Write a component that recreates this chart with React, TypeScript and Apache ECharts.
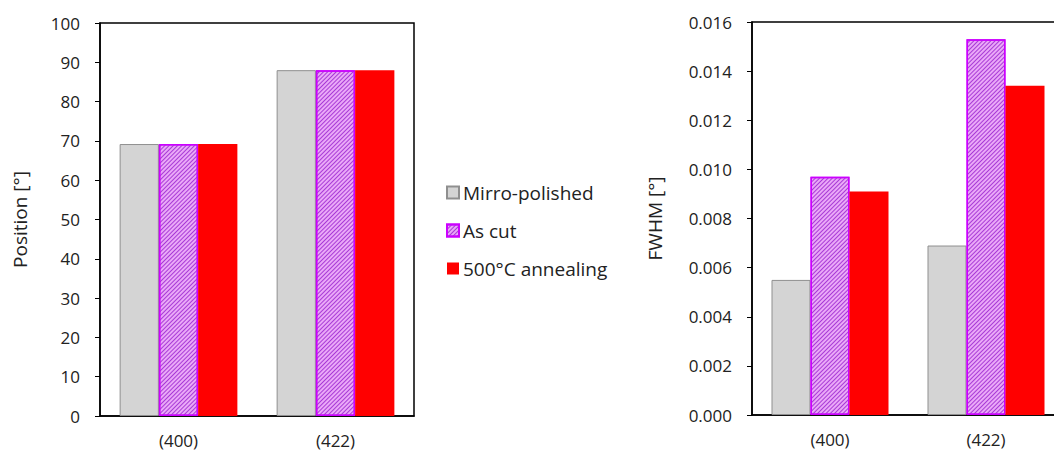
import React, { useEffect, useRef } from "react";
import * as echarts from "echarts";

const categories = ["(400)", "(422)"];
const seriesNames = ["Mirro-polished", "As cut", "500°C annealing"];
const positionMirror = [69.2, 88.0];
const positionAsCut = [69.2, 88.0];
const positionAnneal = [69.2, 88.0];
const fwhmMirror = [0.0055, 0.0069];
const fwhmAsCut = [0.0097, 0.0153];
const fwhmAnneal = [0.0091, 0.0134];

const FONT = "'Open Sans', 'Noto Sans', sans-serif";

const grayStyle = { color: "#d4d4d4", borderColor: "#8f8f8f", borderWidth: 1 };
const hatchStyle = {
  color: "#eaa8f8",
  borderColor: "#cc00ff",
  borderWidth: 1.5,
  decal: {
    symbol: "rect",
    symbolSize: 1,
    dashArrayX: [1, 0],
    dashArrayY: [1, 1.6],
    rotation: -Math.PI / 4,
    color: "#a83ad6",
  },
};
const redStyle = { color: "#ff0000", borderWidth: 0 };

export default function App() {
  const ref = useRef<HTMLDivElement>(null);
  useEffect(() => {
    if (!ref.current) return;
    const chart = echarts.init(ref.current, null, { renderer: "svg" });
    const axisLine = { show: true, lineStyle: { color: "#000", width: 1.5 } };
    const mkX = (gi: number) => ({
      type: "category" as const,
      gridIndex: gi,
      data: categories,
      axisLine,
      axisTick: { show: false },
      axisLabel: { color: "#222", fontSize: 17, fontFamily: FONT, margin: 15, lineHeight: 18 },
    });
    const mkY = (gi: number, max: number, interval: number, name: string, gap: number, dec: number) => ({
      type: "value" as const,
      gridIndex: gi,
      min: 0,
      max,
      interval,
      name,
      nameLocation: "middle" as const,
      nameGap: gap,
      nameRotate: 90,
      nameTextStyle: { color: "#222", fontSize: 19, fontFamily: FONT },
      axisLine,
      axisTick: { show: true, inside: false, length: 5, lineStyle: { color: "#000" } },
      splitLine: { show: false },
      axisLabel: {
        color: "#222",
        fontSize: 17,
        fontFamily: FONT,
        margin: 20,
        formatter: (v: number) => v.toFixed(dec),
      },
    });
    const bar = (name: string, data: number[], gi: number, style: any) => ({
      name,
      type: "bar" as const,
      xAxisIndex: gi,
      yAxisIndex: gi,
      data,
      barGap: "0%",
      barCategoryGap: "25%",
      itemStyle: style,
    });
    chart.setOption({
      animation: false,
      backgroundColor: "#fff",
      grid: [
        { left: 100, width: 314, top: 23, bottom: 36, show: true, borderColor: "#000", borderWidth: 1.5, outerBoundsMode: "none", containLabel: false },
        { left: 752, width: 312, top: 22, bottom: 37, show: true, borderColor: "#000", borderWidth: 1.5, outerBoundsMode: "none", containLabel: false },
      ],
      xAxis: [mkX(0), mkX(1)],
      yAxis: [
        mkY(0, 100, 10, "Position [°]", 71, 0),
        mkY(1, 0.016, 0.002, "FWHM [°]", 88, 3),
      ],
      legend: {
        orient: "vertical",
        left: 441,
        top: 178,
        itemGap: 19,
        itemWidth: 12,
        itemHeight: 12,
        icon: "rect",
        textStyle: { color: "#222", fontSize: 19, fontFamily: FONT, padding: [0, 0, 0, -1] },
        data: seriesNames,
      },
      series: [
        bar(seriesNames[0], positionMirror, 0, grayStyle),
        bar(seriesNames[1], positionAsCut, 0, hatchStyle),
        bar(seriesNames[2], positionAnneal, 0, redStyle),
        bar(seriesNames[0], fwhmMirror, 1, grayStyle),
        bar(seriesNames[1], fwhmAsCut, 1, hatchStyle),
        bar(seriesNames[2], fwhmAnneal, 1, redStyle),
      ],
    });
    return () => chart.dispose();
  }, []);
  return <div ref={ref} style={{ width: 1054, height: 452, position: "absolute", left: 0, top: 0 }} />;
}
